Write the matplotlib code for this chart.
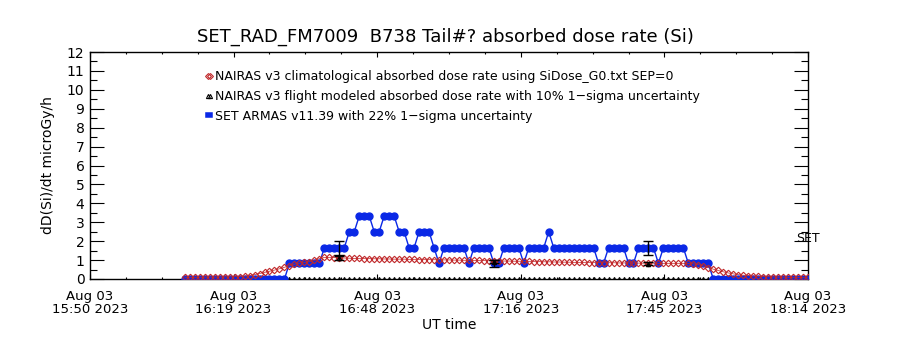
import numpy as np
import matplotlib
matplotlib.use('Agg')
import matplotlib.pyplot as plt
from matplotlib.lines import Line2D
from matplotlib.ticker import MultipleLocator

# time axis: minutes after 15:50 UT on Aug 03 2023
t0 = np.datetime64('2023-08-03T15:50:00')
t_end = np.datetime64('2023-08-03T18:14:00')
first_min = 19

# SET ARMAS measured dose rate, one sample per minute (microGy/h)
set_armas = [0.0] * 21 + \
    [0.83] * 7 + [1.65] * 5 + [2.5] * 2 + [3.33] * 3 + [2.5] * 2 + [3.33] * 3 + \
    [2.5] * 2 + [1.65] * 2 + [2.5] * 3 + [1.65, 0.83] + [1.65] * 5 + [0.83] + \
    [1.65] * 4 + [0.83] * 2 + [1.65] * 4 + [0.83] + [1.65] * 4 + [2.5] + \
    [1.65] * 9 + [0.83] * 2 + [1.65] * 4 + [0.83] * 2 + [1.65] * 4 + [0.83] + \
    [1.65] * 5 + [0.83] * 5 + [0.0] * 20

# NAIRAS climatological dose rate, same minutes
nairas_clim = [
    0.08, 0.08, 0.09, 0.09, 0.10, 0.10, 0.10, 0.10, 0.11, 0.11, 0.12, 0.13, 0.15,
    0.18, 0.23, 0.29, 0.35, 0.41, 0.47, 0.54, 0.62, 0.70, 0.78, 0.84, 0.88, 0.92, 0.98, 1.08,
    1.14, 1.14, 1.13, 1.12, 1.11, 1.10, 1.09, 1.09, 1.08, 1.08, 1.07, 1.07, 1.06, 1.06,
    1.05, 1.05, 1.05, 1.04, 1.04, 1.03, 1.03, 1.03, 1.02, 1.02, 1.01, 1.01, 1.00, 1.00,
    0.99, 0.99, 0.98, 0.98, 0.97, 0.97,
    0.96, 0.96, 0.95, 0.95, 0.94, 0.94, 0.93, 0.93, 0.92, 0.92, 0.91, 0.91, 0.90, 0.90,
    0.89, 0.89, 0.88, 0.88, 0.88, 0.87,
    0.87, 0.87, 0.86, 0.86, 0.86, 0.85, 0.85, 0.85, 0.85, 0.84, 0.84, 0.84, 0.84, 0.83,
    0.83, 0.83, 0.83, 0.83,
    0.83, 0.82, 0.80, 0.76, 0.69, 0.60,
    0.52, 0.45, 0.38, 0.32, 0.27, 0.23, 0.20, 0.18, 0.16, 0.14, 0.13, 0.12, 0.11, 0.10,
    0.10, 0.09, 0.09, 0.08, 0.08, 0.08,
]

# NAIRAS flight modeled points (with error bars) and the flight track samples at 0
flight_track = (40, 124)
flight_min = [50, 81, 112]
flight_val = [1.1, 0.92, 0.8]
set_err_frac = 0.22
flight_err_frac = 0.10

tick_labels = ["Aug 03\n15:50 2023", "Aug 03\n16:19 2023", "Aug 03\n16:48 2023",
               "Aug 03\n17:16 2023", "Aug 03\n17:45 2023", "Aug 03\n18:14 2023"]

title = "SET_RAD_FM7009  B738 Tail#? absorbed dose rate (Si)"
legend_labels = [
    "NAIRAS v3 climatological absorbed dose rate using SiDose_G0.txt SEP=0",
    "NAIRAS v3 flight modeled absorbed dose rate with 10% 1\u2212sigma uncertainty",
    "SET ARMAS v11.39 with 22% 1\u2212sigma uncertainty",
]

BLUE = '#0a28e6'
RED = '#c0282a'

def tm(m):
    return t0 + np.asarray(m).astype('timedelta64[m]')

minutes = np.arange(first_min, first_min + len(set_armas))
times = tm(minutes)

fig = plt.figure(figsize=(9, 3.5), dpi=100)
ax = fig.add_axes([90 / 900, 1 - 279 / 350, 718 / 900, 227 / 350])

ax.plot(times, set_armas, color=BLUE, lw=1, marker='o', ms=5, mec=BLUE, mfc=BLUE, zorder=3)
ax.plot(times, nairas_clim, color=RED, lw=0.5, marker='D', ms=3.3, mfc='none',
        mec=RED, mew=0.8, zorder=4)

track_min = np.arange(flight_track[0], flight_track[1] + 1)
ax.plot(tm(track_min), np.zeros(len(track_min)), ls='none', marker='^', ms=3,
        color='k', mfc='none', mew=0.8, zorder=2)

set_at = np.array([set_armas[m - first_min] for m in flight_min])
ax.errorbar(tm(flight_min), set_at, yerr=set_err_frac * set_at, fmt='none',
            ecolor='k', elinewidth=1, capsize=3.5, capthick=1, zorder=5)
fv = np.array(flight_val)
ax.errorbar(tm(flight_min), fv, yerr=flight_err_frac * fv, fmt='^', ms=3,
            color='k', mfc='none', ecolor='k', elinewidth=1, capsize=3.5, capthick=1, zorder=5)

ax.set_xlim(t0, t_end)
ax.set_ylim(0, 12)

ticks = [t0 + np.timedelta64(1728 * k, 's') for k in range(6)]
minor = [t0 + np.timedelta64(432 * k, 's') for k in range(21)]
ax.set_xticks(ticks)
ax.set_xticks(minor, minor=True)
ax.set_xticklabels(tick_labels, fontsize=9.5, linespacing=0.95)
ax.yaxis.set_major_locator(MultipleLocator(1))
ax.yaxis.set_minor_locator(MultipleLocator(0.5))
ax.tick_params(axis='y', which='major', direction='in', length=10, width=0.8,
               right=True, labelsize=10, pad=4)
ax.tick_params(axis='y', which='minor', direction='in', length=5, width=0.8, right=True)
ax.tick_params(axis='x', which='major', direction='in', length=3.3, width=0.8,
               top=True, pad=8)
ax.tick_params(axis='x', which='minor', direction='in', length=1.7, width=0.8, top=True)
for s in ax.spines.values():
    s.set_linewidth(1)

ax.set_ylabel("dD(Si)/dt microGy/h", fontsize=10)
ax.yaxis.set_label_coords(-0.049, 0.5)
ax.set_xlabel("UT time", fontsize=10)
ax.xaxis.set_label_coords(0.5, -0.17)

fig.text(445 / 900, 1 - 37 / 350, title, ha='center', va='center', fontsize=13)
ax.text(0.984, 0.18, "SET", transform=ax.transAxes, ha='left', va='center',
        fontsize=9, clip_on=False)

handles = [
    Line2D([], [], ls='none', marker='D', ms=3, mfc='none', mec=RED, mew=0.8),
    Line2D([], [], ls='none', marker='^', ms=3, mfc='none', mec='k', mew=0.8),
    Line2D([], [], color=BLUE, lw=4),
]
ax.legend(handles, legend_labels, numpoints=2, handlelength=0.8, handletextpad=0.1,
          labelspacing=0.55, frameon=False, fontsize=9, loc='upper left',
          bbox_to_anchor=(204 / 900, 1 - 70 / 350), bbox_transform=fig.transFigure,
          borderpad=0, borderaxespad=0)

fig.savefig('out.png', dpi=100)
